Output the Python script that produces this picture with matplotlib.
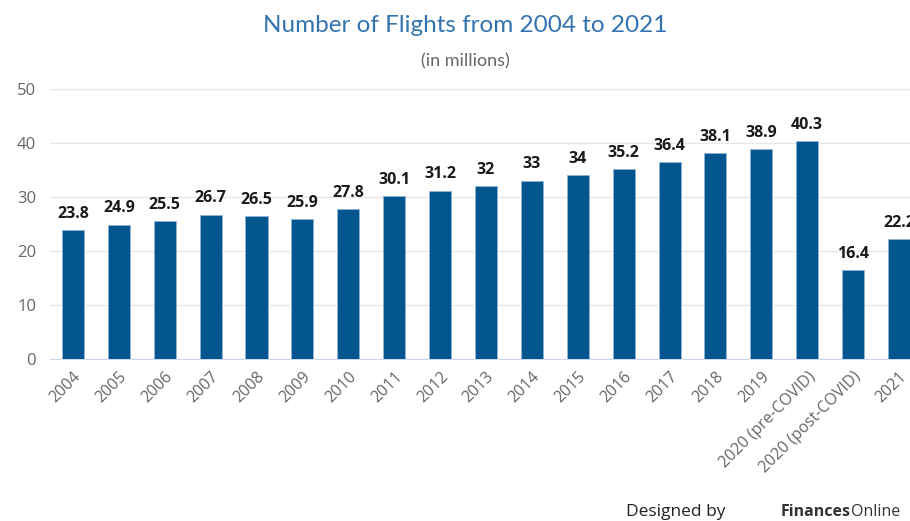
import matplotlib.pyplot as plt

# data
categories = ["2004", "2005", "2006", "2007", "2008", "2009", "2010", "2011", "2012",
              "2013", "2014", "2015", "2016", "2017", "2018", "2019",
              "2020 (pre-COVID)", "2020 (post-COVID)", "2021"]
flights = [23.8, 24.9, 25.5, 26.7, 26.5, 25.9, 27.8, 30.1, 31.2,
           32, 33, 34, 35.2, 36.4, 38.1, 38.9, 40.3, 16.4, 22.2]
value_labels = ["23.8", "24.9", "25.5", "26.7", "26.5", "25.9", "27.8", "30.1", "31.2",
                "32", "33", "34", "35.2", "36.4", "38.1", "38.9", "40.3", "16.4", "22.2"]
yticks = [0, 10, 20, 30, 40, 50]

plt.rcParams['font.family'] = ['Open Sans', 'DejaVu Sans']

fig = plt.figure(figsize=(9.1, 5.21), dpi=100)
ax = fig.add_axes([50 / 910, 1 - 359 / 521, 1 - 50 / 910, (359 - 89) / 521])

x = list(range(len(categories)))
ax.bar(x, flights, width=0.48, color='#02568f', edgecolor='#8fb3d6', linewidth=0.6, zorder=3)

for xi, v, lab in zip(x, flights, value_labels):
    ax.annotate(lab, (xi, v), xytext=(0, 6), textcoords='offset points',
                ha='center', va='bottom', fontsize=11.5, fontweight='bold',
                color='#1a1a1a', annotation_clip=False)

ax.set_xlim(-0.5, 18.24)
ax.set_ylim(0, 50)
ax.set_yticks(yticks)
ax.yaxis.grid(True, color='#e6e6e6', linewidth=1, zorder=0)
ax.set_axisbelow(True)
for s in ['top', 'right', 'left']:
    ax.spines[s].set_visible(False)
ax.spines['bottom'].set_color('#ccd6eb')
ax.tick_params(axis='y', length=0, pad=10, labelsize=12, labelcolor='#666666')
ax.tick_params(axis='x', length=0, pad=7, labelsize=11.5, labelcolor='#666666')
ax.set_xticks(x)
ax.set_xticklabels(categories, rotation=45, ha='right', rotation_mode='anchor')

fig.text(0.511, 0.952, "Number of Flights from 2004 to 2021", ha='center', va='center',
         fontsize=17.5, color='#3373b0', family=['Lato', 'DejaVu Sans'])
fig.text(0.511, 0.882, "(in millions)", ha='center', va='center',
         fontsize=13, color='#666666', family=['Lato', 'DejaVu Sans'])

fig.text(0.797, 0.018, "Designed by", ha='right', va='center', fontsize=12.5, color='#222222')
fig.text(0.935, 0.018, "Finances", ha='right', va='center', fontsize=11.5,
         fontweight='bold', color='#333333')
fig.text(0.935, 0.018, "Online", ha='left', va='center', fontsize=11.5, color='#333333')

fig.savefig('out.png', dpi=100)
